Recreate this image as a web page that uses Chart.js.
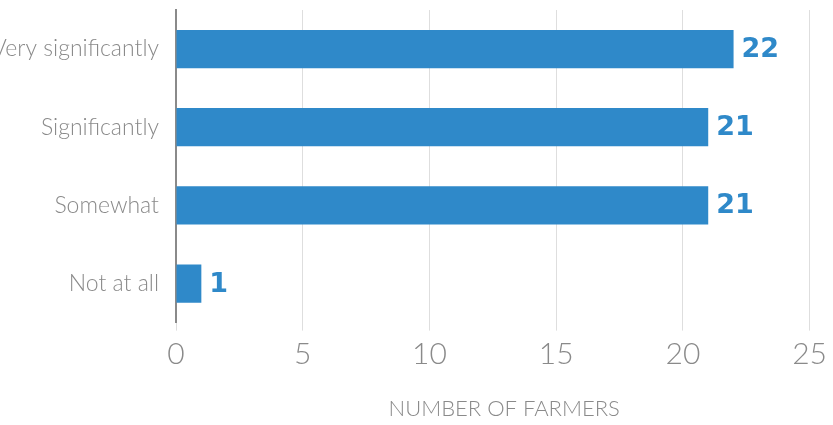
<!DOCTYPE html>
<html>
<head>
<meta charset="utf-8">
<script src="https://cdn.jsdelivr.net/npm/chart.js@4/dist/chart.umd.min.js"></script>
<style>
  html, body { margin: 0; padding: 0; background: #ffffff; }
  #wrap { width: 833px; height: 425px; }
</style>
</head>
<body>
<div id="wrap"><canvas id="chart" width="833" height="425"></canvas></div>
<script>
// Survey answers and how many farmers gave each one
const categories = ['Very significantly', 'Significantly', 'Somewhat', 'Not at all'];
const farmers = [22, 21, 21, 1];
const xTicks = [0, 5, 10, 15, 20, 25];
const axisTitle = 'NUMBER OF FARMERS';

const BLUE = '#2f89c9';
const GREY = '#8a8a8a';

// Prints each bar's count just past its end
const valueLabels = {
  id: 'valueLabels',
  afterDatasetsDraw(chart) {
    const ctx = chart.ctx;
    const meta = chart.getDatasetMeta(0);
    ctx.save();
    ctx.font = 'bold 27px "DejaVu Sans", sans-serif';
    ctx.fillStyle = BLUE;
    ctx.textAlign = 'left';
    ctx.textBaseline = 'middle';
    meta.data.forEach((bar, i) => {
      ctx.fillText(String(farmers[i]), bar.x + 8, bar.y + 1);
    });
    ctx.restore();
  }
};

new Chart(document.getElementById('chart'), {
  type: 'bar',
  data: {
    labels: categories,
    datasets: [{
      data: farmers,
      backgroundColor: BLUE,
      borderWidth: 0,
      barPercentage: 0.49,
      categoryPercentage: 1
    }]
  },
  options: {
    indexAxis: 'y',
    responsive: false,
    devicePixelRatio: 1,
    animation: false,
    layout: { padding: { top: 10, right: 0, bottom: 0, left: 0 } },
    plugins: {
      legend: { display: false },
      tooltip: { enabled: false }
    },
    scales: {
      x: {
        type: 'linear',
        min: 0,
        max: 25.9,
        afterBuildTicks(scale) {
          scale.ticks = xTicks.map(v => ({ value: v }));
        },
        afterFit(scale) {
          scale.paddingTop = 0;
          scale.paddingBottom = 0;
        },
        grid: {
          color: '#dedede',
          lineWidth: 1,
          drawTicks: true,
          tickLength: 8,
          tickColor: '#dedede'
        },
        border: { display: false },
        ticks: {
          color: GREY,
          font: { family: 'Lato', size: 30, weight: '300' },
          padding: 6,
          maxRotation: 0
        },
        title: {
          display: true,
          text: axisTitle,
          color: GREY,
          font: { family: 'Lato', size: 22, weight: '300' },
          padding: { top: 17, bottom: 3 }
        }
      },
      y: {
        grid: { display: false, drawTicks: false },
        border: { display: true, color: GREY, width: 2 },
        ticks: {
          color: GREY,
          font: { family: 'Lato', size: 23, weight: '300' },
          padding: 17
        },
        afterFit(scale) {
          scale.width = 176;
          scale.paddingTop = 0;
          scale.paddingBottom = 0;
        }
      }
    }
  },
  plugins: [valueLabels]
});
</script>
</body>
</html>
